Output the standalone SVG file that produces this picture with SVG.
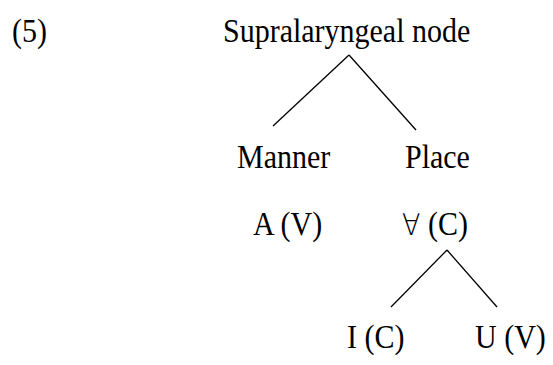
<svg xmlns="http://www.w3.org/2000/svg" width="553" height="365" viewBox="0 0 553 365">
<style>
text{font-family:"Liberation Serif","Times New Roman",serif;font-size:30px;fill:#000}
.fa{font-family:"DejaVu Sans",sans-serif;font-size:27px;font-weight:200}
.e{stroke:#000;stroke-width:1.3;fill:none}
</style>
<rect width="553" height="365" fill="#fff"/>
<text transform="translate(12,42) scale(1,1.1)">(5)</text>
<g id="supra"><text transform="translate(223,42) scale(1,1.1)">Supralaryngeal node</text></g>
<g id="manner"><text transform="translate(237,168) scale(1,1.1)">Manner</text></g>
<g id="place"><text transform="translate(405,168) scale(1,1.1)">Place</text></g>
<g id="av"><text transform="translate(253,235) scale(1,1.1)">A (V)</text></g>
<g id="forallc"><text transform="translate(402,235) scale(1,1.1)"><tspan class="fa">∀</tspan> (C)</text></g>
<g id="ic"><text transform="translate(347,348) scale(1,1.1)">I (C)</text></g>
<g id="uv"><text transform="translate(475,348) scale(1,1.1)">U (V)</text></g>
<g id="edges">
<line class="e" x1="349" y1="55" x2="273" y2="126"/>
<line class="e" x1="349" y1="55" x2="416" y2="130"/>
<line class="e" x1="447" y1="250" x2="391" y2="307"/>
<line class="e" x1="447" y1="250" x2="497" y2="307"/>
</g>
</svg>
